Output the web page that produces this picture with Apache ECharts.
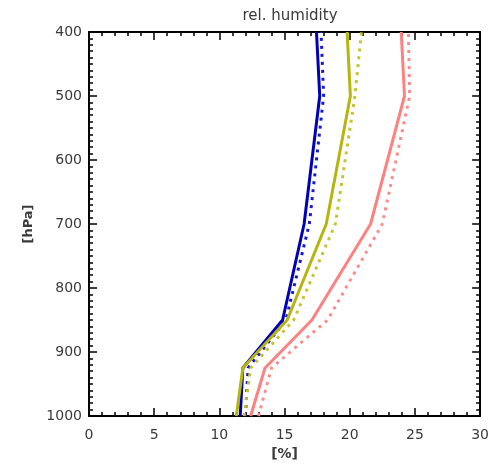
<!DOCTYPE html>
<html><head><meta charset="utf-8">
<script src="https://cdn.jsdelivr.net/npm/echarts@6/dist/echarts.min.js"></script>
<style>html,body{margin:0;padding:0;background:#fff}#c{width:492px;height:469px}</style>
</head><body><div id="c"></div>
<script>
const levels = [1000, 925, 850, 700, 500, 400];
const blueSolid   = [11.6, 11.8, 14.85, 16.5, 17.7, 17.45];
const blueDotted  = [12.0, 12.2, 15.1, 16.9, 18.0, 17.8];
const yellowSolid = [11.3, 11.8, 15.2, 18.2, 20.05, 19.8];
const yellowDotted= [11.9, 12.4, 15.7, 18.9, 20.4, 20.9];
const redSolid    = [12.4, 13.5, 17.1, 21.6, 24.2, 23.95];
const redDotted   = [13.0, 14.0, 18.3, 22.5, 24.6, 24.5];
const xTicks = [0, 5, 10, 15, 20, 25, 30];
const yTicks = [400, 500, 600, 700, 800, 900, 1000];
const title = 'rel. humidity';
const xName = '[%]';
const yName = '[hPa]';

const pairs = vals => vals.map((v, i) => [v, levels[i]]);
const font = 'DejaVu Sans';
const txt = '#3a3a3a';

function xAx(show, pos) {
  return {
    type: 'value', position: pos, min: xTicks[0], max: xTicks[xTicks.length-1], interval: 5,
    axisLine: {show: true, onZero: false, lineStyle: {color: '#000', width: 2}},
    axisTick: {show: true, inside: true, length: 8, lineStyle: {color: '#000', width: 1.5}},
    minorTick: {show: true, splitNumber: 5, length: 4, lineStyle: {color: '#000', width: 1.5}},
    splitLine: {show: false},
    axisLabel: {show: show, color: txt, fontFamily: font, fontSize: 14, margin: 12},
    name: show ? xName : '', nameLocation: 'middle', nameGap: 30,
    nameTextStyle: {color: txt, fontFamily: font, fontSize: 14, fontWeight: 'bold'}
  };
}
function yAx(show, pos) {
  return {
    type: 'value', position: pos, inverse: true, min: yTicks[0], max: yTicks[yTicks.length-1], interval: 100,
    axisLine: {show: true, onZero: false, lineStyle: {color: '#000', width: 2}},
    axisTick: {show: true, inside: true, length: 8, lineStyle: {color: '#000', width: 1.5}},
    minorTick: {show: true, splitNumber: 10, length: 4, lineStyle: {color: '#000', width: 1.5}},
    splitLine: {show: false},
    axisLabel: {show: show, color: txt, fontFamily: font, fontSize: 14, margin: 7,
      formatter: v => String(v)},
    name: show ? yName : '', nameLocation: 'middle', nameGap: 52, nameRotate: 90,
    nameTextStyle: {color: txt, fontFamily: font, fontSize: 13, fontWeight: 'bold'}
  };
}
function ser(vals, color, dotted) {
  return {
    type: 'line', data: pairs(vals), xAxisIndex: 0, yAxisIndex: 0, symbol: 'none',
    lineStyle: {color: color, width: 3, type: dotted ? [3, 5] : 'solid', cap: 'butt'},
    z: dotted ? 3 : 4, animation: false
  };
}
const chart = echarts.init(document.getElementById('c'), null, {renderer: 'canvas'});
chart.setOption({
  animation: false,
  title: {text: title, left: 285, top: 4, textAlign: 'center',
    textStyle: {color: txt, fontFamily: font, fontSize: 15, fontWeight: 'normal'}},
  grid: {left: 89, right: 11, top: 32, bottom: 53, containLabel: false},
  xAxis: [xAx(true, 'bottom'), xAx(false, 'top')],
  yAxis: [yAx(true, 'left'), yAx(false, 'right')],
  series: [
    ser(blueDotted, '#1a1acc', true),
    ser(yellowDotted, '#c4c430', true),
    ser(redDotted, '#ff8a8a', true),
    ser(blueSolid, '#0000b8', false),
    ser(yellowSolid, '#b5b50e', false),
    ser(redSolid, '#ff8080', false)
  ]
});
</script></body></html>
